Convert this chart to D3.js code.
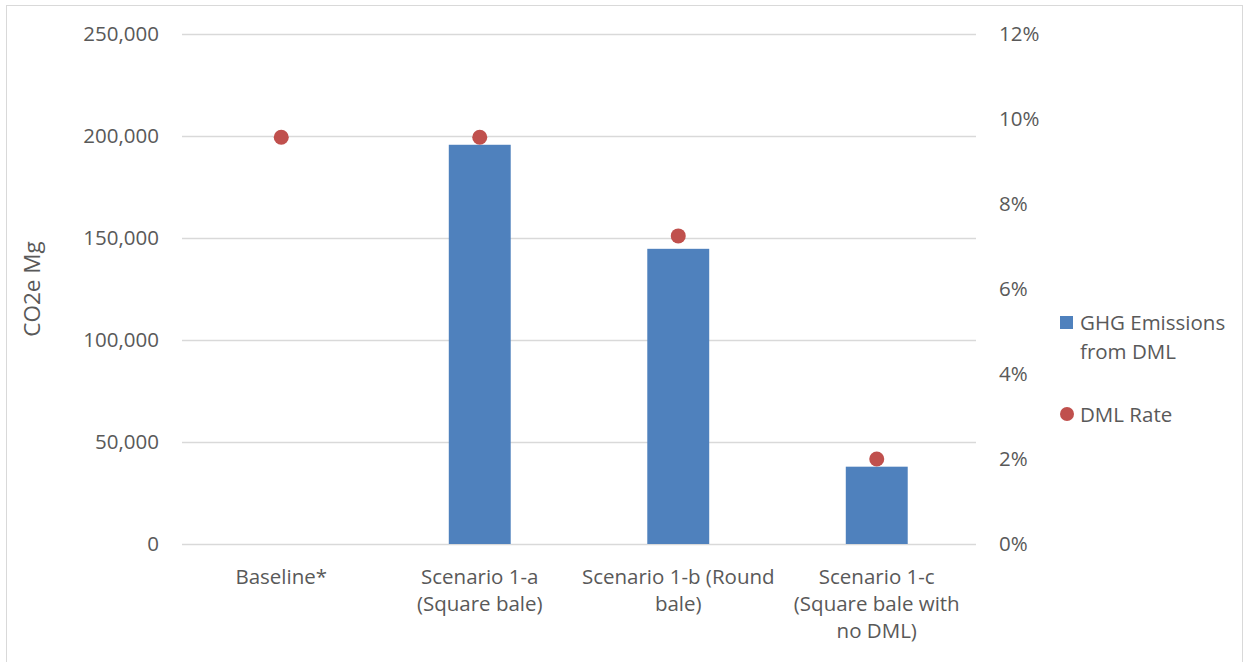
<!DOCTYPE html>
<html>
<head>
<meta charset="utf-8">
<script src="https://cdn.jsdelivr.net/npm/d3@7"></script>
<style>
  body { margin: 0; background: #fff; }
  svg text { font-family: "Open Sans", "Liberation Sans", sans-serif; fill: #595959; }
</style>
</head>
<body>
<svg id="chart" width="1244" height="662"></svg>
<script>
const width = 1244, height = 662;

// data
const categories = ['Baseline*', 'Scenario 1-a (Square bale)', 'Scenario 1-b (Round bale)', 'Scenario 1-c (Square bale with no DML)'];
const categoryLines = [
  ['Baseline*'],
  ['Scenario 1-a', '(Square bale)'],
  ['Scenario 1-b (Round', 'bale)'],
  ['Scenario 1-c', '(Square bale with', 'no DML)']
];
const emissions = [0, 195700, 144700, 37900];
const dmlRate = [0.0957, 0.0957, 0.0725, 0.020];
const leftTicks = [0, 50000, 100000, 150000, 200000, 250000];
const rightTicks = [0, 0.02, 0.04, 0.06, 0.08, 0.10, 0.12];
const seriesNames = ['GHG Emissions from DML', 'DML Rate'];

const barColor = '#4f81bd', dotColor = '#c0504d', gridColor = '#d9d9d9';
const plot = { left: 182, right: 976, top: 34, bottom: 544 };

const svg = d3.select('#chart');

// outer frame
svg.append('rect')
  .attr('x', 6.5).attr('y', 5.5)
  .attr('width', 1236).attr('height', 662)
  .attr('fill', 'none')
  .attr('stroke', gridColor);

const x = d3.scaleBand()
  .domain(categories)
  .range([plot.left, plot.right])
  .padding(0);

const yLeft = d3.scaleLinear().domain([0, 250000]).range([plot.bottom, plot.top]);
const yRight = d3.scaleLinear().domain([0, 0.12]).range([plot.bottom, plot.top]);

// gridlines
svg.append('g')
  .selectAll('line')
  .data(leftTicks)
  .join('line')
  .attr('x1', plot.left).attr('x2', plot.right)
  .attr('y1', d => Math.round(yLeft(d)) + 0.5)
  .attr('y2', d => Math.round(yLeft(d)) + 0.5)
  .attr('stroke', gridColor)
  .attr('stroke-width', 1.5);

// left axis
const leftAxis = svg.append('g')
  .attr('transform', `translate(${plot.left - 23},0)`)
  .call(d3.axisLeft(yLeft).tickValues(leftTicks).tickFormat(d3.format(',')).tickSize(0).tickPadding(0));
leftAxis.select('.domain').remove();
leftAxis.selectAll('text')
  .attr('font-size', 20.5)
  .attr('font-family', null)
  .attr('fill', '#595959');

// right axis
const rightAxis = svg.append('g')
  .attr('transform', `translate(${plot.right + 23},0)`)
  .call(d3.axisRight(yRight).tickValues(rightTicks).tickFormat(d3.format('.0%')).tickSize(0).tickPadding(0));
rightAxis.select('.domain').remove();
rightAxis.selectAll('text')
  .attr('font-size', 20.5)
  .attr('font-family', null)
  .attr('fill', '#595959');

// y axis title
svg.append('text')
  .attr('transform', `translate(40,${(plot.top + plot.bottom) / 2}) rotate(-90)`)
  .attr('text-anchor', 'middle')
  .attr('font-size', 22.5)
  .text('CO2e Mg');

// bars
const barW = x.bandwidth() * 0.312;
svg.append('g')
  .selectAll('rect')
  .data(emissions)
  .join('rect')
  .attr('x', (d, i) => x(categories[i]) + x.bandwidth() / 2 - barW / 2)
  .attr('y', d => yLeft(d))
  .attr('width', barW)
  .attr('height', d => yLeft(0) - yLeft(d))
  .attr('fill', barColor);

// dots
svg.append('g')
  .selectAll('circle')
  .data(dmlRate)
  .join('circle')
  .attr('cx', (d, i) => x(categories[i]) + x.bandwidth() / 2)
  .attr('cy', d => yRight(d))
  .attr('r', 7.5)
  .attr('fill', dotColor);

// category labels
const catLabels = svg.append('g')
  .selectAll('text')
  .data(categoryLines)
  .join('text')
  .attr('text-anchor', 'middle')
  .attr('font-size', 20.5)
  .attr('y', 584);
catLabels.each(function (lines, i) {
  d3.select(this).selectAll('tspan')
    .data(lines)
    .join('tspan')
    .attr('x', x(categories[i]) + x.bandwidth() / 2)
    .attr('dy', (d, j) => j === 0 ? 0 : 27)
    .text(d => d);
});

// legend
const legend = svg.append('g');
legend.append('rect')
  .attr('x', 1060).attr('y', 316)
  .attr('width', 13).attr('height', 13)
  .attr('fill', barColor);
legend.append('text')
  .attr('x', 1080).attr('y', 330)
  .attr('font-size', 20.5)
  .selectAll('tspan')
  .data(['GHG Emissions', 'from DML'])
  .join('tspan')
  .attr('x', 1080)
  .attr('dy', (d, j) => j === 0 ? 0 : 29)
  .text(d => d);
legend.append('circle')
  .attr('cx', 1067).attr('cy', 414)
  .attr('r', 7)
  .attr('fill', dotColor);
legend.append('text')
  .attr('x', 1080).attr('y', 422)
  .attr('font-size', 20.5)
  .text(seriesNames[1]);
</script>
</body>
</html>
